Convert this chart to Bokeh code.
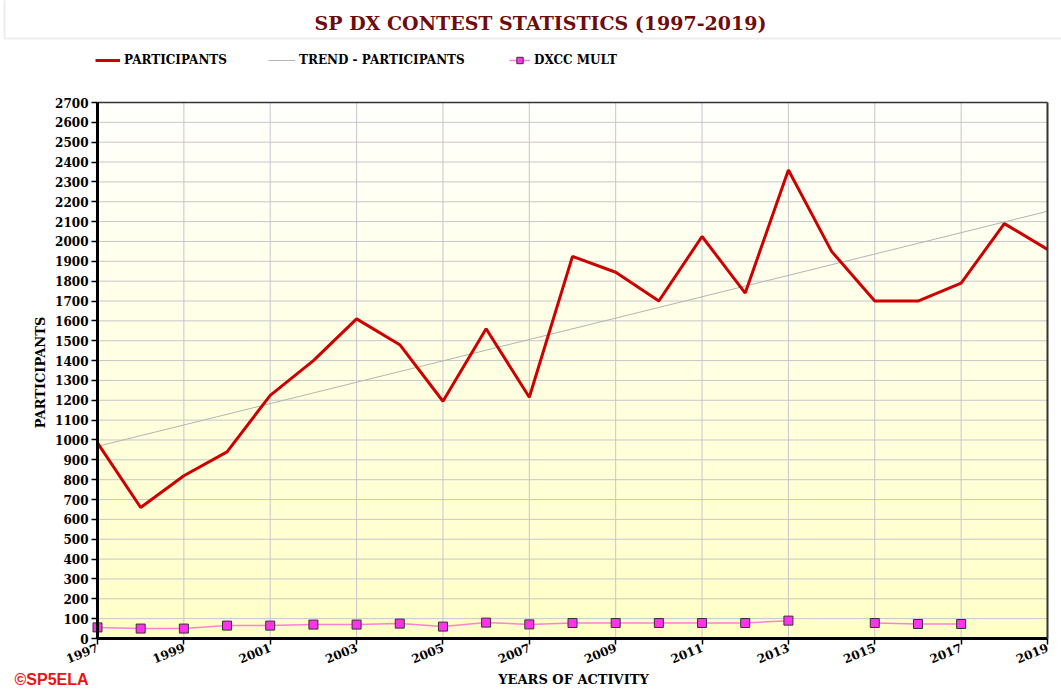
import math
import numpy as np
from bokeh.plotting import figure
from bokeh.models import (Range1d, FixedTicker, Legend, LegendItem, Label,
                          LinearAxis, BoxAnnotation)
from bokeh.embed import file_html
from bokeh.resources import INLINE

# ---------------- data ----------------
title_text = "SP DX CONTEST STATISTICS (1997-2019)"
credit_text = "©SP5ELA"
x_title = "YEARS OF ACTIVITY"
y_title = "PARTICIPANTS"
years = list(range(1997, 2020))
participants = [985, 660, 820, 940, 1225, 1400, 1610, 1480, 1195, 1560, 1215, 1925,
                1845, 1700, 2025, 1740, 2360, 1950, 1700, 1700, 1790, 2090, 1960]
dxcc_mult = [56, 50, 50, 65, 65, 70, 70, 75, 60, 80, 71, 78,
             78, 78, 78, 78, 90, float("nan"), 78, 73, 73, float("nan"), float("nan")]
trend_years = [1997, 2019]
trend_values = [968, 2152]
x_ticks = list(range(1997, 2020, 2))
y_ticks = list(range(0, 2701, 100))

SERIF = "DejaVu Serif"

# ---------------- layout constants (pixels of the 1061x689 canvas) ----------------
W, H = 1061, 689
PLOT_L, PLOT_R, PLOT_T, PLOT_B = 97, 1047, 102, 638
XMIN, XMAX, YMIN, YMAX = 1997, 2019, 0, 2700
sx = (PLOT_R - PLOT_L) / (XMAX - XMIN)
sy = (PLOT_B - PLOT_T) / (YMAX - YMIN)
x_start = XMIN - PLOT_L / sx
x_end = XMAX + (W - PLOT_R) / sx
y_start = YMIN - (H - PLOT_B) / sy
y_end = YMAX + PLOT_T / sy

def cx(px):  # canvas x -> data x
    return x_start + px / sx

def cy(py):  # canvas y (from top) -> data y
    return y_end - py / sy

p = figure(width=W, height=H, x_range=Range1d(x_start, x_end), y_range=Range1d(y_start, y_end),
           output_backend="svg", toolbar_location=None,
           min_border=0, min_border_left=0, min_border_right=0,
           min_border_top=0, min_border_bottom=0)
p.background_fill_color = "white"
p.border_fill_color = "white"
p.outline_line_color = None
p.grid.visible = False

# title strip
p.add_layout(BoxAnnotation(left=cx(4), right=cx(W + 5), top=cy(-5), bottom=cy(38),
                           fill_color="white", fill_alpha=1,
                           line_color="#c4c4c4", line_width=2, level="underlay"))
p.add_layout(Label(x=540, y=22, x_units="canvas", y_units="canvas",
                   text=title_text, text_align="center", text_baseline="middle",
                   text_font=SERIF, text_font_style="bold", text_font_size="19px",
                   text_color="#6e0c0c"))

# gradient background of the plotting area (white at top to pale yellow at bottom)
n = 200
t = np.linspace(0, 1, n)  # 0 bottom -> 1 top
img = np.zeros((n, 1), dtype=np.uint32)
view = img.view(dtype=np.uint8).reshape((n, 1, 4))
view[:, 0, 0] = 255
view[:, 0, 1] = 255
view[:, 0, 2] = (200 + 52 * t).astype(np.uint8)
view[:, 0, 3] = 255
bg = p.image_rgba(image=[img], x=XMIN, y=YMIN, dw=XMAX - XMIN, dh=YMAX - YMIN)
bg.level = "image"

# grid lines limited to the plotting area
p.segment(x0=x_ticks, y0=[YMIN] * len(x_ticks), x1=x_ticks, y1=[YMAX] * len(x_ticks),
          line_color="#c6c6cc", line_width=1)
p.segment(x0=[XMIN] * len(y_ticks), y0=y_ticks, x1=[XMAX] * len(y_ticks), y1=y_ticks,
          line_color="#c6c6cc", line_width=1)

trend = p.line(trend_years, trend_values, line_color="#b4b4b4", line_width=1)
part = p.line(years, participants, line_color="#cc0000", line_width=3)
dx_line = p.line(years, dxcc_mult, line_color="#ff80d8", line_width=1.5)
dx_pts = p.scatter(years, dxcc_mult, marker="square", size=9,
                   fill_color="#ff33ee", line_color="#333333", line_width=1)

# axes pinned to the plotting area
p.xaxis.ticker = FixedTicker(ticks=x_ticks)
p.yaxis.ticker = FixedTicker(ticks=y_ticks)
p.xaxis.fixed_location = YMIN
p.yaxis.fixed_location = XMIN
p.xaxis.bounds = (XMIN, XMAX)
p.yaxis.bounds = (YMIN, YMAX)
for ax in (p.xaxis[0], p.yaxis[0]):
    ax.axis_line_color = "black"
    ax.axis_line_width = 3
    ax.major_tick_line_color = "black"
    ax.major_tick_line_width = 1.5
    ax.major_tick_out = 6
    ax.major_tick_in = 0
    ax.minor_tick_line_color = None
    ax.major_label_text_font = SERIF
    ax.major_label_text_font_style = "bold"
    ax.major_label_text_font_size = "12px"
    ax.major_label_text_color = "black"
p.xaxis.major_label_orientation = 0.38
p.xaxis.major_label_standoff = 2
p.yaxis.major_label_standoff = 3

# thin top and right borders of the plotting area
top_ax = LinearAxis(fixed_location=YMAX, bounds=(XMIN, XMAX), ticker=FixedTicker(ticks=[]),
                    axis_line_color="#333333", axis_line_width=1.5,
                    major_tick_line_color=None, minor_tick_line_color=None,
                    major_label_text_color=None)
right_ax = LinearAxis(fixed_location=XMAX, bounds=(YMIN, YMAX), ticker=FixedTicker(ticks=[]),
                      axis_line_color="#333333", axis_line_width=2,
                      major_tick_line_color=None, minor_tick_line_color=None,
                      major_label_text_color=None)
p.add_layout(top_ax, "above")
p.add_layout(right_ax, "right")

# axis titles
p.add_layout(Label(x=40, y=372, x_units="canvas", y_units="canvas", angle=math.pi / 2,
                   text=y_title, text_align="center", text_baseline="middle",
                   text_font=SERIF, text_font_style="bold", text_font_size="13px",
                   text_color="black"))
p.add_layout(Label(x=573, y=671, x_units="canvas", y_units="canvas",
                   text=x_title, text_align="center", text_baseline="top",
                   text_font=SERIF, text_font_style="bold", text_font_size="13px",
                   text_color="black"))
# credit
p.add_layout(Label(x=14, y=670, x_units="canvas", y_units="canvas",
                   text=credit_text, text_align="left", text_baseline="top",
                   text_font="Liberation Sans", text_font_style="bold",
                   text_font_size="16px", text_color="#ee1111"))

# legend entries above the plotting area
def legend_entry(label, renderers, x_px, gw):
    lg = Legend(items=[LegendItem(label=label, renderers=renderers)],
                location=(x_px, H - 52 - 16), orientation="horizontal",
                glyph_width=gw, glyph_height=16, label_height=16, label_standoff=4,
                padding=0, margin=0, spacing=0,
                background_fill_alpha=0, border_line_color=None,
                label_text_font=SERIF, label_text_font_style="bold",
                label_text_font_size="12px", label_text_color="black")
    p.add_layout(lg)

legend_entry("PARTICIPANTS", [part], 95, 25)
legend_entry("TREND - PARTICIPANTS", [trend], 268, 27)
legend_entry("DXCC MULT", [dx_line, dx_pts], 509, 21)

open("out.html", "w").write(file_html(p, INLINE))
